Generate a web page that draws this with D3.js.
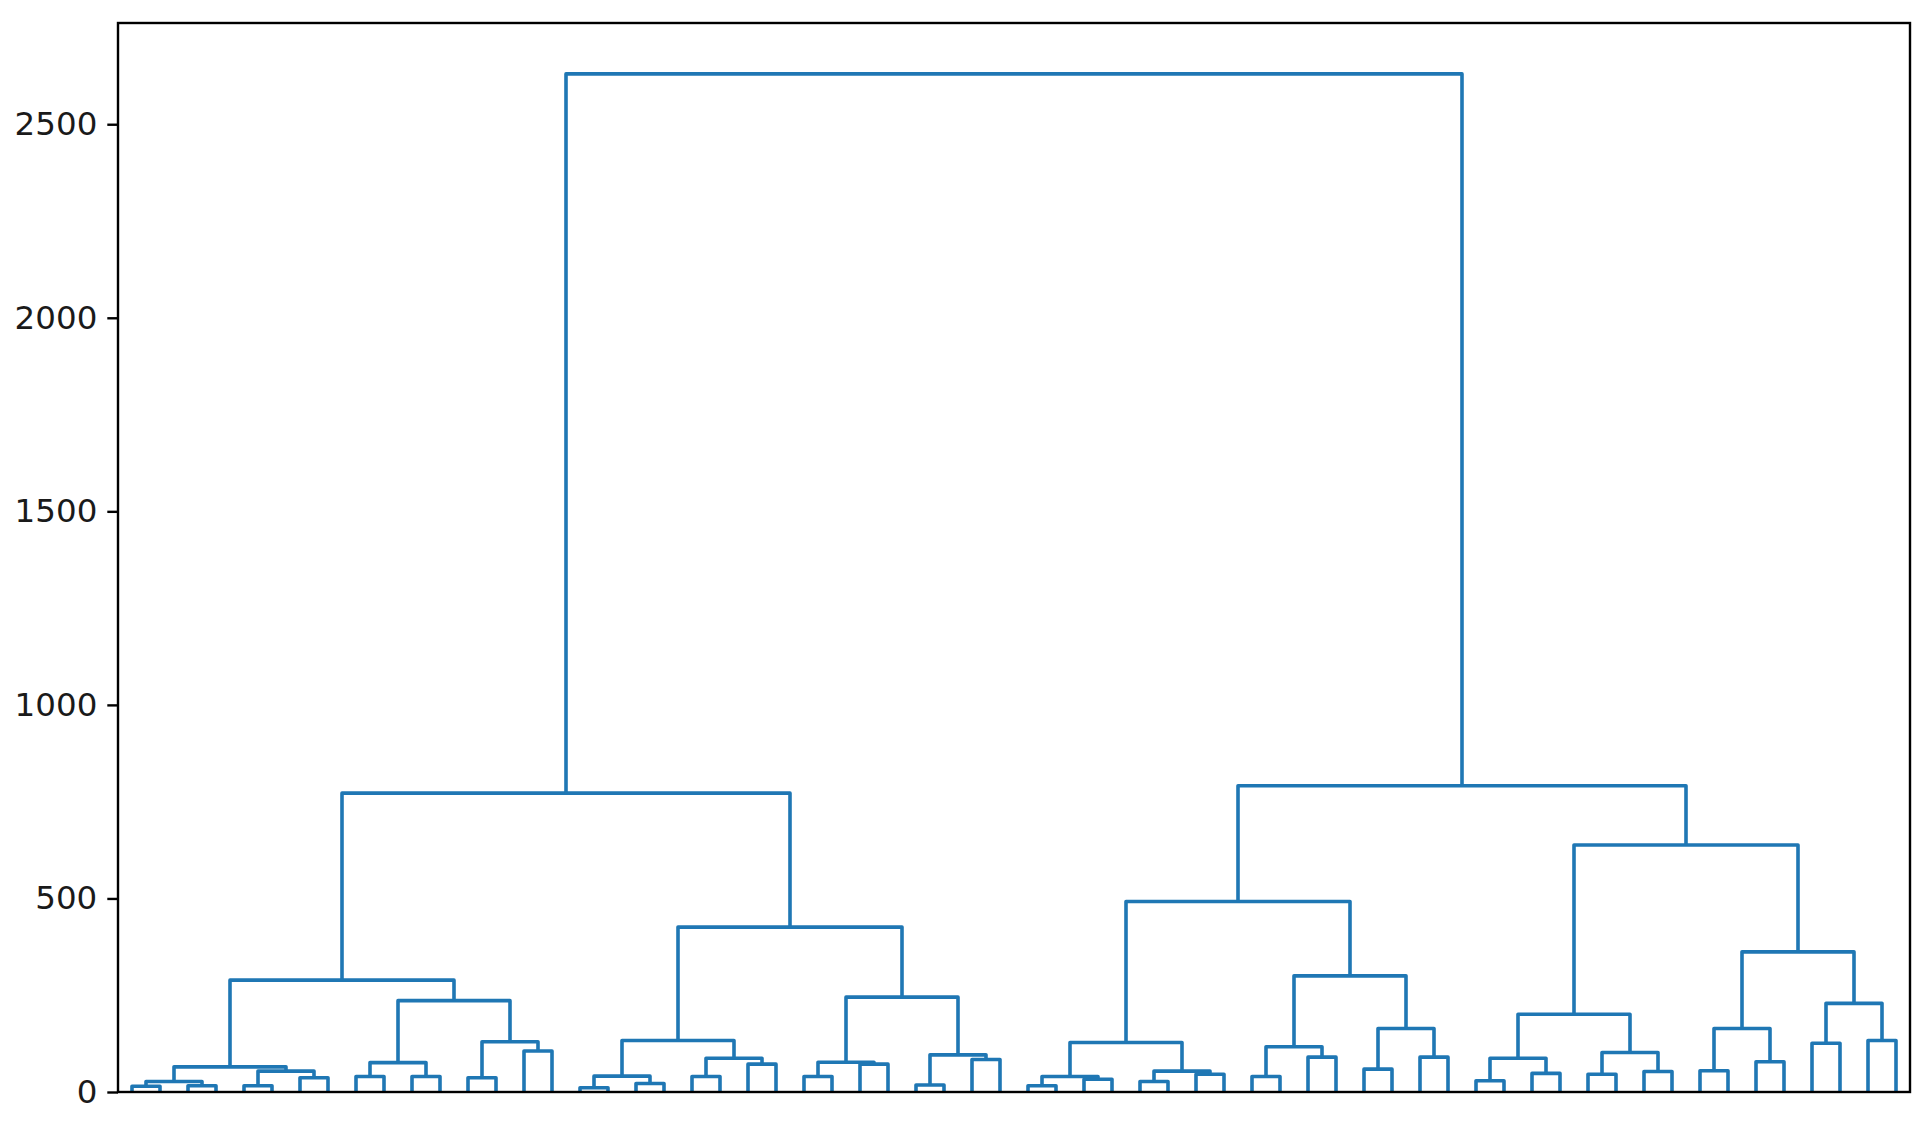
<!DOCTYPE html>
<html>
<head>
<meta charset="utf-8">
<script src="https://cdn.jsdelivr.net/npm/d3@7"></script>
<style>
  html, body { margin: 0; padding: 0; background: #ffffff; }
  svg { display: block; }
</style>
</head>
<body>
<script>
// Merge heights of the dendrogram, one array per level of a balanced binary tree
// (64 leaves, ordered left to right as drawn).
const level1 = [15, 16, 16, 37, 40, 40, 37, 106, 11, 22, 40, 72, 40, 72, 18, 84,
                16, 33, 27, 46, 40, 90, 59, 90, 29, 48, 46, 53, 55, 78, 126, 133];
const level2 = [27, 54, 76, 130, 41, 87, 77, 96, 40, 54, 117, 164, 87, 102, 164, 229];
const level3 = [65, 236, 133, 245, 128, 300, 201, 362];
const level4 = [289, 426, 492, 638];
const level5 = [772, 791];
const rootHeight = [2630];
const yTickValues = [0, 500, 1000, 1500, 2000, 2500];
const leafCount = 64;

const W = 1931, H = 1127;
const m = { left: 118, right: 1910, top: 23, bottom: 1092 };

const svg = d3.select("body").append("svg")
  .attr("width", W).attr("height", H)
  .style("background", "#fff");

const levels = [level1, level2, level3, level4, level5, rootHeight];
const maxH = d3.max(rootHeight);

const x = d3.scaleLinear().domain([0, leafCount * 10]).range([m.left, m.right]);
const y = d3.scaleLinear().domain([0, maxH * 1.05]).range([m.bottom, m.top]);

// build U-links
let nodes = d3.range(leafCount).map(i => ({ x: 5 + 10 * i, h: 0 }));
const links = [];
levels.forEach(hs => {
  nodes = hs.map((h, j) => {
    const a = nodes[2 * j], b = nodes[2 * j + 1];
    links.push([[a.x, a.h], [a.x, h], [b.x, h], [b.x, b.h]]);
    return { x: (a.x + b.x) / 2, h: h };
  });
});

svg.append("defs").append("clipPath").attr("id", "plotclip")
  .append("rect")
  .attr("x", m.left).attr("y", m.top)
  .attr("width", m.right - m.left).attr("height", m.bottom - m.top);

const line = d3.line().x(d => x(d[0])).y(d => y(d[1]));

svg.append("g").attr("clip-path", "url(#plotclip)")
  .selectAll("path").data(links).enter().append("path")
  .attr("d", line)
  .attr("fill", "none")
  .attr("stroke", "#1f77b4")
  .attr("stroke-width", 3.6)
  .attr("stroke-linejoin", "round")
  .attr("stroke-linecap", "butt");

// y axis
const yAxis = d3.axisLeft(y).tickValues(yTickValues).tickSize(10.7).tickPadding(10)
  .tickFormat(d3.format("d"));
const gy = svg.append("g").attr("transform", `translate(${m.left},0)`).call(yAxis);
gy.select(".domain").remove();
gy.selectAll(".tick line").attr("stroke", "#000").attr("stroke-width", 2.4);
gy.selectAll(".tick text")
  .attr("fill", "#1a1a1a")
  .style("font-family", "'DejaVu Sans', sans-serif")
  .style("font-size", "32.5px");

// spines
svg.append("rect")
  .attr("x", m.left).attr("y", m.top)
  .attr("width", m.right - m.left).attr("height", m.bottom - m.top)
  .attr("fill", "none").attr("stroke", "#000").attr("stroke-width", 2.4);
</script>
</body>
</html>
